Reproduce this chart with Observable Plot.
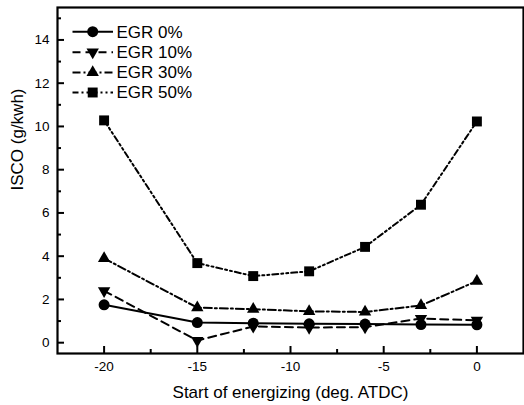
<!DOCTYPE html>
<html>
<head>
<meta charset="utf-8">
<script src="https://cdn.jsdelivr.net/npm/d3@7"></script>
<script src="https://cdn.jsdelivr.net/npm/@observablehq/plot@0.6"></script>
<style>
  html, body { margin: 0; padding: 0; background: #fff; }
  #wrap { position: relative; width: 524px; height: 405px; font-family: "Liberation Sans", Arial, sans-serif; }
  #legend { position: absolute; left: 0; top: 0; pointer-events: none; }
</style>
</head>
<body>
<div id="wrap"></div>
<script>
// ---- data ----
const start = [-20, -15, -12, -9, -6, -3, 0];
const seriesNames = ["EGR 0%", "EGR 10%", "EGR 30%", "EGR 50%"];
const egr0  = [1.75, 0.93, 0.90, 0.87, 0.86, 0.84, 0.83];
const egr10 = [2.40, 0.10, 0.75, 0.70, 0.72, 1.12, 1.03];
const egr30 = [3.90, 1.62, 1.55, 1.45, 1.42, 1.72, 2.85];
const egr50 = [10.28, 3.68, 3.08, 3.30, 4.43, 6.38, 10.23];
const xMajorTicks = [-20, -15, -10, -5, 0];
const xMinorTicks = [-17.5, -12.5, -7.5, -2.5];
const yMajorTicks = [0, 2, 4, 6, 8, 10, 12, 14];
const yMinorTicks = [1, 3, 5, 7, 9, 11, 13, 15];
const xTitle = "Start of energizing (deg. ATDC)";
const yTitle = "ISCO (g/kwh)";

// ---- styles ----
const sqrt3 = Math.sqrt(3);
const triangleDown = {
  draw(ctx, size) {
    const y = -Math.sqrt(size / (sqrt3 * 3));
    ctx.moveTo(0, -y * 2);
    ctx.lineTo(-sqrt3 * y, y);
    ctx.lineTo(sqrt3 * y, y);
    ctx.closePath();
  }
};
const styles = [
  {values: egr0,  dash: null,               symbol: "circle",  r: 5.5},
  {values: egr10, dash: "8,5",              symbol: triangleDown, r: 4.6},
  {values: egr30, dash: "8,3,2,3",          symbol: "triangle", r: 4.6},
  {values: egr50, dash: "6,3,2,3,2,3",      symbol: "square",  r: 5.6}
];

const marks = [];
styles.forEach((s, i) => {
  const rows = start.map((x, j) => ({x, y: s.values[j]}));
  marks.push(Plot.line(rows, {x: "x", y: "y", stroke: "black", strokeWidth: 2, strokeDasharray: s.dash}));
  marks.push(Plot.dot(rows, {x: "x", y: "y", symbol: s.symbol, r: s.r, fill: "black", stroke: "none"}));
});

const font = "Liberation Sans, Arial, sans-serif";
const fmt = d => String(d);
const chart = Plot.plot({
  width: 524,
  height: 405,
  marginLeft: 57,
  marginRight: 1,
  marginTop: 7,
  marginBottom: 52,
  style: {fontFamily: font, background: "white", color: "black"},
  x: {domain: [-22.5, 2.5], axis: null},
  y: {domain: [-0.5, 15.5], axis: null},
  marks: [
    ...marks,
    Plot.axisX(xMajorTicks, {anchor: "bottom", tickSize: -7, tickPadding: 15, fontSize: 13.5, tickFormat: fmt, fill: "black", label: null, strokeWidth: 2}),
    Plot.axisX(xMinorTicks, {anchor: "bottom", tickSize: -4, tickFormat: () => "", label: null, strokeWidth: 2}),
    Plot.axisY(yMajorTicks, {anchor: "left", tickSize: -7, tickPadding: 15, fontSize: 13.5, tickFormat: fmt, fill: "black", label: null, strokeWidth: 2}),
    Plot.axisY(yMinorTicks, {anchor: "left", tickSize: -4, tickFormat: () => "", label: null, strokeWidth: 2}),
    Plot.text([xTitle], {frameAnchor: "bottom", lineAnchor: "top", dy: 32, fontSize: 17, fill: "black"}),
    Plot.text([yTitle], {frameAnchor: "left", rotate: -90, lineAnchor: "top", dx: -47, dy: 10, fontSize: 17, fill: "black"}),
    Plot.frame({stroke: "black", strokeWidth: 2.2})
  ]
});
const wrap = document.getElementById("wrap");
wrap.appendChild(chart);

// ---- legend (overlay inside plot frame) ----
const leg = d3.select(wrap).append("svg")
  .attr("id", "legend").attr("width", 524).attr("height", 405);
const rowY = [31.7, 52.2, 72.5, 92.5];
seriesNames.forEach((name, i) => {
  const s = styles[i];
  const g = leg.append("g").attr("transform", `translate(0,${rowY[i]})`);
  g.append("line").attr("x1", 72.5).attr("x2", 113).attr("y1", 0).attr("y2", 0)
    .attr("stroke", "black").attr("stroke-width", 2)
    .attr("stroke-dasharray", s.dash);
  const symType = s.symbol === "circle" ? d3.symbolCircle
    : s.symbol === "triangle" ? d3.symbolTriangle
    : s.symbol === "square" ? d3.symbolSquare : s.symbol;
  g.append("path").attr("transform", "translate(92.7,0)")
    .attr("d", d3.symbol(symType, Math.PI * s.r * s.r)()).attr("fill", "black");
  g.append("text").attr("x", 116.5).attr("y", 0).attr("dy", "0.35em")
    .attr("font-family", font).attr("font-size", 17).attr("fill", "black").text(name);
});
</script>
</body>
</html>
